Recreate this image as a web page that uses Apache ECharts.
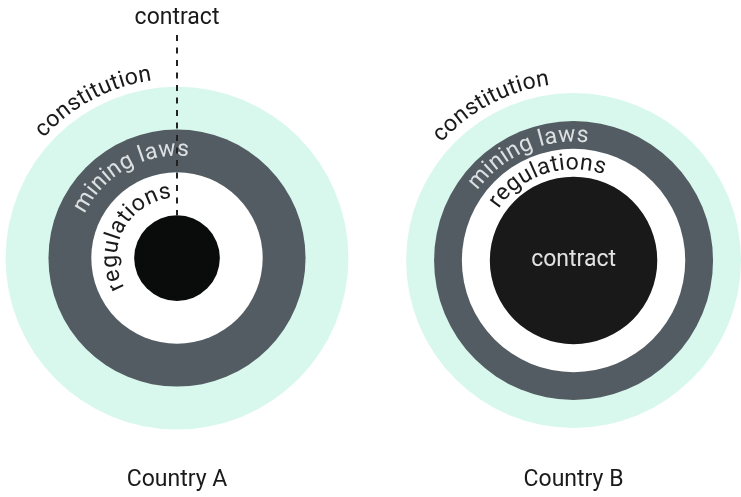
<!DOCTYPE html>
<html>
<head>
<meta charset="utf-8">
<script src="https://cdn.jsdelivr.net/npm/echarts@6/dist/echarts.min.js"></script>
<style>
html,body{margin:0;padding:0;background:#fff;}
#chart{width:741px;height:497px;}
</style>
</head>
<body>
<div id="chart"></div>
<script>
// ---- data ----
const layers = ['constitution', 'mining laws', 'regulations', 'contract'];
const countries = ['Country A', 'Country B'];
// radius of each layer, relative to the constitution (outer) circle
const radiiA = [1, 0.75, 0.5, 0.25];
const radiiB = [1, 0.833, 0.667, 0.5];

// ---- styles / layout ----
const FONT = 'Roboto, "DejaVu Sans", sans-serif';
const ARC_FONT_SIZE = 23;
const TRACKING = 0.2;
const fills = ['#d8f8ee', '#525c62', '#ffffff', null];
const contractFill = ['#0a0c0b', '#19191a'];
const textColors = ['#1a1a1a', '#dde1e3', '#1a1a1a'];
// arc label placement per country: [centre angle (deg), baseline radius (data units)]
const arcLayout = [
  [[118, 1.035], [119, 0.585], [152, 0.34]],
  [[118, 1.045], [113.5, 0.698], [108, 0.532]]
];
const grids = [
  {left: 5.6, top: 87.1, width: 342.8, height: 342.8},
  {left: 406.1, top: 89.9, width: 342.8, height: 342.8}
];
const nameGaps = [40, 38];

const measureCtx = document.createElement('canvas').getContext('2d');
function charWidth(ch, font) { measureCtx.font = font; return measureCtx.measureText(ch).width; }

function arcText(text, cx, cy, rhoBase, centreDeg, fontSize, color) {
  const font = fontSize + 'px ' + FONT;
  const ws = text.split('').map(c => charWidth(c, font) + TRACKING);
  const W = ws.reduce((a, b) => a + b, 0) - TRACKING;
  const c0 = centreDeg * Math.PI / 180;
  const rhoMid = rhoBase + fontSize * 0.34;
  let acc = 0;
  const out = [];
  text.split('').forEach((ch, i) => {
    const off = acc + (ws[i] - TRACKING) / 2 - W / 2;
    acc += ws[i];
    const th = c0 - off / rhoBase;
    out.push({
      type: 'text',
      x: cx + rhoMid * Math.cos(th),
      y: cy - rhoMid * Math.sin(th),
      rotation: th - Math.PI / 2,
      style: {text: ch, font: font, fill: color, align: 'center', verticalAlign: 'middle'}
    });
  });
  return out;
}

function makeRender(ci) {
  return function (params, api) {
    const idx = params.dataIndex;
    const r = api.value(0);
    const c = api.coord([0, 0]);
    const e = api.coord([r, 0]);
    const R = e[0] - c[0];
    const unit = api.coord([1, 0])[0] - c[0];
    const children = [{
      type: 'circle',
      shape: {cx: c[0], cy: c[1], r: R},
      style: {fill: idx === 3 ? contractFill[ci] : fills[idx]}
    }];
    if (idx < 3) {
      const lay = arcLayout[ci][idx];
      children.push(...arcText(layers[idx], c[0], c[1], lay[1] * unit, lay[0], ARC_FONT_SIZE, textColors[idx]));
    } else if (ci === 1) {
      children.push({type: 'text', x: c[0], y: c[1], style: {text: layers[3], font: '23px ' + FONT, fill: '#e2e2e2', align: 'center', verticalAlign: 'middle'}});
    } else {
      const top = api.coord([0, r]);
      children.push({type: 'line', shape: {x1: c[0], y1: 35, x2: c[0], y2: top[1]}, style: {stroke: '#222', lineWidth: 2, lineDash: [6, 6.5]}});
      children.push({type: 'text', x: c[0], y: 18, style: {text: layers[3], font: '23px ' + FONT, fill: '#1a1a1a', align: 'center', verticalAlign: 'middle'}});
    }
    return {type: 'group', children: children};
  };
}

const chart = echarts.init(document.getElementById('chart'), null, {renderer: 'canvas'});
const xAxes = [], yAxes = [], series = [];
[radiiA, radiiB].forEach((radii, ci) => {
  xAxes.push({
    gridIndex: ci, type: 'value', min: -1, max: 1,
    axisLine: {show: false}, axisTick: {show: false}, axisLabel: {show: false}, splitLine: {show: false},
    name: countries[ci], nameLocation: 'middle', nameGap: nameGaps[ci],
    nameTextStyle: {fontFamily: FONT, fontSize: 23, color: '#1a1a1a'}
  });
  yAxes.push({
    gridIndex: ci, type: 'value', min: -1, max: 1, show: false
  });
  series.push({
    type: 'custom', xAxisIndex: ci, yAxisIndex: ci,
    renderItem: makeRender(ci),
    data: radii.map(v => [v]),
    encode: {x: [], y: []},
    silent: true, animation: false, clip: false
  });
});

chart.setOption({
  animation: false,
  grid: grids,
  xAxis: xAxes,
  yAxis: yAxes,
  series: series
});
</script>
</body>
</html>
